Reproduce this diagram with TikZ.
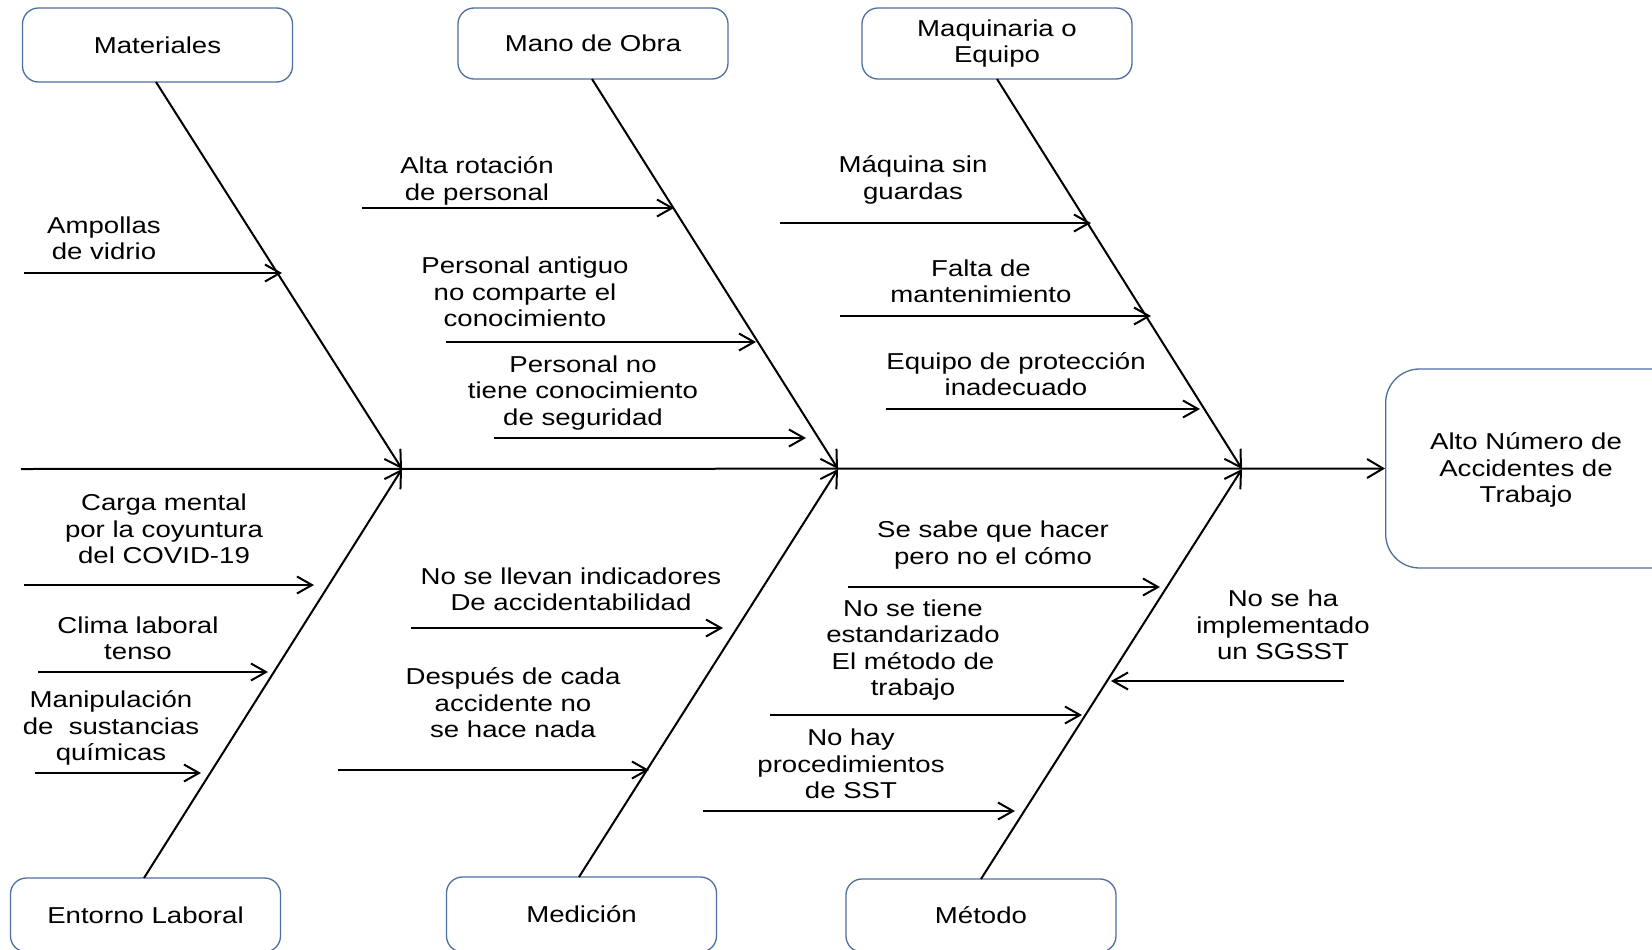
\documentclass[tikz,border=0pt]{standalone}
\usepackage{fontspec}
\setmainfont[FakeStretch=1.2]{Liberation Sans}
\usetikzlibrary{arrows.meta}
\definecolor{boxblue}{RGB}{79,110,160}
\tikzset{
  catbox/.style={draw=boxblue, line width=1.3pt, rounded corners=16pt, minimum width=270pt, align=center, font=\fontsize{23}{26.4}\selectfont},
  lbl/.style={align=center, inner sep=0pt, font=\fontsize{23}{26.4}\selectfont},
  bone/.style={line width=2pt, -{Straight Barb[length=16pt,width=19pt,line width=2pt]}},
  cause/.style={line width=2pt, -{Straight Barb[length=15pt,width=17pt,line width=2pt]}}
}
\begin{document}
\begin{tikzpicture}[x=1pt,y=-1pt]
\useasboundingbox (0,0) rectangle (1652,950);
\clip (0,0) rectangle (1652,950);
\fill[white] (0,0) rectangle (1652,950);
% category boxes
\node[catbox, minimum height=74pt] (mat) at (157.5,45) {Materiales};
\node[catbox, minimum height=71pt] (mano) at (593,43.5) {Mano de Obra};
\node[catbox, minimum height=71pt] (maq) at (997,43.5) {Maquinaria o\\[-1pt]Equipo};
\node[catbox, minimum height=74pt] (ent) at (145.5,915) {Entorno Laboral};
\node[catbox, minimum height=75pt] (med) at (581.5,914.5) {Medición};
\node[catbox, minimum height=73pt] (met) at (981,915.5) {Método};
% result
\node[draw=boxblue, line width=1.3pt, rounded corners=34pt, minimum width=300pt, minimum height=199pt, anchor=west] (res) at (1385,468.5) {};
\node[lbl] (restext) at (1526,470) {Alto Número de\\Accidentes de\\Trabajo};
% spine
\coordinate (s0) at (21,469);
\coordinate (j1) at (402,469);
\coordinate (j2) at (838,469);
\coordinate (j3) at (1242,469);
\coordinate (mattop) at (156,82);
\coordinate (manotop) at (592,79);
\coordinate (maqtop) at (997,79);
\coordinate (entbot) at (144,878);
\coordinate (medbot) at (579,877);
\coordinate (metbot) at (981,879);
\draw[bone] (s0) -- (res.west);
\draw[bone] (mattop) -- (j1);
\draw[bone] (manotop) -- (j2);
\draw[bone] (maqtop) -- (j3);
\draw[bone] (entbot) -- (j1);
\draw[bone] (medbot) -- (j2);
\draw[bone] (metbot) -- (j3);
% Materiales
\node[lbl] (c1) at (104,238) {Ampollas\\de vidrio};
\coordinate (c1s) at (24,273);
\coordinate (c1e) at (282,273);
\draw[cause] (c1s) -- (c1e);
% Mano de Obra
\node[lbl] (c2) at (477,181) {Alta rotación\\de personal};
\coordinate (c2s) at (362,208);
\coordinate (c2e) at (674,208);
\draw[cause] (c2s) -- (c2e);
\node[lbl] (c3) at (525,292) {Personal antiguo\\no comparte el\\conocimiento};
\coordinate (c3s) at (446,342);
\coordinate (c3e) at (756,342);
\draw[cause] (c3s) -- (c3e);
\node[lbl] (c4) at (583,393) {Personal no\\tiene conocimiento\\de seguridad};
\coordinate (c4s) at (494,438);
\coordinate (c4e) at (806,438);
\draw[cause] (c4s) -- (c4e);
% Maquinaria
\node[lbl] (c5) at (913,180) {Máquina sin\\guardas};
\coordinate (c5s) at (780,223);
\coordinate (c5e) at (1091,223);
\draw[cause] (c5s) -- (c5e);
\node[lbl] (c6) at (981,281) {Falta de\\mantenimiento};
\coordinate (c6s) at (840,316);
\coordinate (c6e) at (1151,316);
\draw[cause] (c6s) -- (c6e);
\node[lbl] (c7) at (1016,374) {Equipo de protección\\inadecuado};
\coordinate (c7s) at (886,409);
\coordinate (c7e) at (1200,409);
\draw[cause] (c7s) -- (c7e);
% Entorno Laboral
\node[lbl] (c8) at (164,529) {Carga mental\\por la coyuntura\\del COVID-19};
\coordinate (c8s) at (24,585);
\coordinate (c8e) at (314,585);
\draw[cause] (c8s) -- (c8e);
\node[lbl] (c9) at (138,638) {Clima laboral\\tenso};
\coordinate (c9s) at (38,672);
\coordinate (c9e) at (268,672);
\draw[cause] (c9s) -- (c9e);
\node[lbl] (c10) at (111,728) {Manipulación\\de\ \ sustancias\\químicas};
\coordinate (c10s) at (35,773);
\coordinate (c10e) at (201,773);
\draw[cause] (c10s) -- (c10e);
% Medición
\node[lbl] (c11) at (571,589) {No se llevan indicadores\\De accidentabilidad};
\coordinate (c11s) at (411,628);
\coordinate (c11e) at (723,628);
\draw[cause] (c11s) -- (c11e);
\node[lbl] (c12) at (513,703) {Después de cada\\accidente no\\se hace nada};
\coordinate (c12s) at (338,770);
\coordinate (c12e) at (649,770);
\draw[cause] (c12s) -- (c12e);
% Método
\node[lbl] (c13) at (993,545) {Se sabe que hacer\\pero no el cómo};
\coordinate (c13s) at (848,587);
\coordinate (c13e) at (1160,587);
\draw[cause] (c13s) -- (c13e);
\node[lbl] (c14) at (913,650) {No se tiene\\estandarizado\\El método de\\trabajo};
\coordinate (c14s) at (770,715);
\coordinate (c14e) at (1082,715);
\draw[cause] (c14s) -- (c14e);
\node[lbl] (c15) at (851,764) {No hay\\procedimientos\\de SST};
\coordinate (c15s) at (703,811);
\coordinate (c15e) at (1015,811);
\draw[cause] (c15s) -- (c15e);
\node[lbl] (c16) at (1283,625) {No se ha\\implementado\\un SGSST};
\coordinate (c16s) at (1344,681);
\coordinate (c16e) at (1111,681);
\draw[cause] (c16s) -- (c16e);
\end{tikzpicture}
\end{document}
